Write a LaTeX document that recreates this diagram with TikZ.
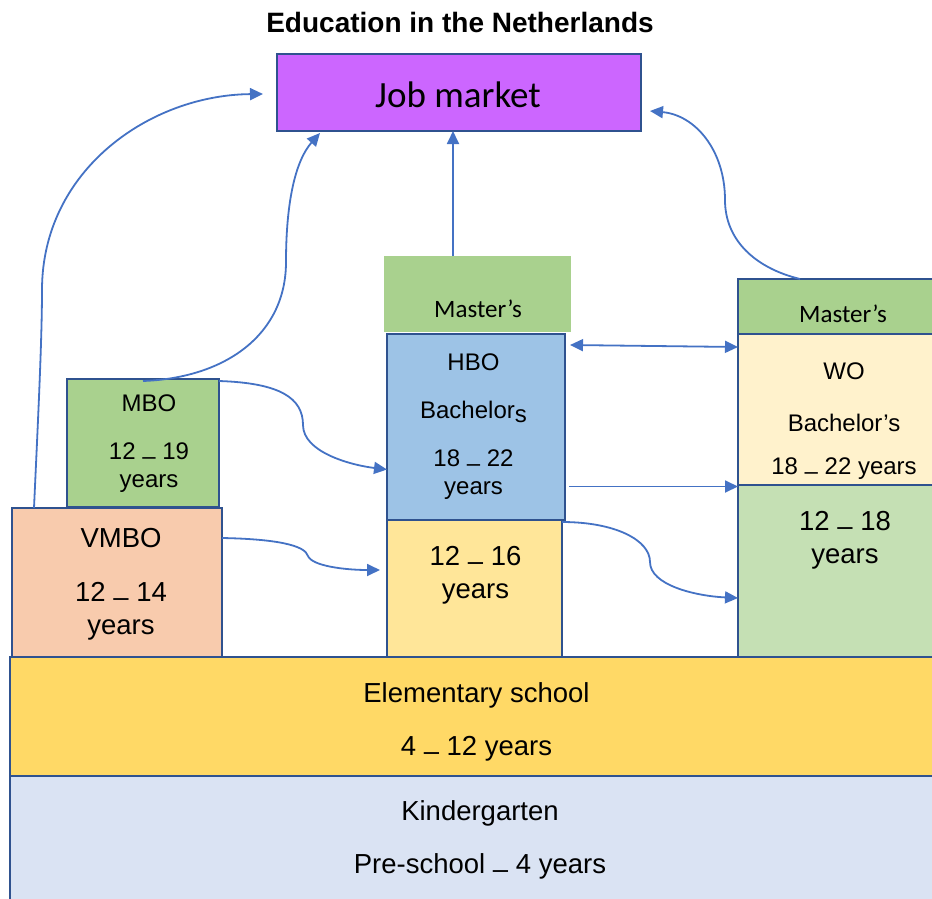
\documentclass[tikz,border=0pt]{standalone}
\usepackage{fontspec}
\setmainfont{Liberation Sans}
\newfontfamily\calibri{Carlito}
\usetikzlibrary{arrows.meta}

\definecolor{edge}{HTML}{2F528F}
\definecolor{link}{HTML}{4472C4}
\definecolor{jobfill}{HTML}{CC66FF}
\definecolor{masterfill}{HTML}{A9D18E}
\definecolor{hbofill}{HTML}{9DC3E6}
\definecolor{havofill}{HTML}{FFE699}
\definecolor{vmbofill}{HTML}{F8CBAD}
\definecolor{wofill}{HTML}{FFF2CC}
\definecolor{vwofill}{HTML}{C5E0B4}
\definecolor{elemfill}{HTML}{FFD966}
\definecolor{kinderfill}{HTML}{DAE3F3}

\newcommand{\lowdash}{\raisebox{-.18em}{–}}

\tikzset{
  box/.style={draw=edge, line width=1.5pt, anchor=north west, inner sep=0pt, outer sep=0pt},
  txt/.style={align=center, inner sep=0pt},
  smalltext/.style={font=\fontsize{24}{28}\selectfont},
  bigtext/.style={font=\fontsize{27.5}{33}\selectfont},
  mastertext/.style={anchor=base, inner sep=0pt, font=\calibri\fontsize{25}{28}\selectfont},
  flow/.style={draw=link, line width=1.8pt, -{Triangle[length=13pt,width=12pt]}},
}

\begin{document}
\begin{tikzpicture}[x=1pt,y=-1pt]
\useasboundingbox (0,0) rectangle (932,899);
\clip (0,0) rectangle (932,899);

\node[anchor=base, inner sep=0pt, font=\bfseries\fontsize{28}{32}\selectfont] (title) at (460,33) {Education in the Netherlands};

% job market
\node[box, fill=jobfill, minimum width=364pt, minimum height=77pt] (job) at (277,54) {};
\path (job.center) ++(-1,14.5) node[anchor=base, inner sep=0pt, font=\calibri\fontsize{37}{40}\selectfont] (jobtxt) {Job market};

% vocational track
\node[box, fill=vmbofill, minimum width=210pt, minimum height=149pt] (vmbo) at (12,508) {};
\path (vmbo.center) ++(4,2.2) node[txt, bigtext] (vmbotxt) {VMBO\\[21pt]12 \lowdash{} 14\\years};
\node[box, fill=masterfill, minimum width=152pt, minimum height=128pt] (mbo) at (67,379) {};
\path (mbo.center) ++(6,1) node[txt, smalltext] (mbotxt) {MBO\\[20pt]12 \lowdash{} 19\\years};

% HBO column
\node[box, fill=havofill, minimum width=175pt, minimum height=137pt] (havo) at (387,520) {};
\path (havo.center) ++(1,-13.5) node[txt, bigtext] (havotxt) {12 \lowdash{} 16\\years};
\node[box, fill=hbofill, minimum width=178pt, minimum height=186pt] (hbo) at (387,334) {};
\path (hbo.center) ++(-2.5,0) node[txt, smalltext] (hbotxt) {HBO\\[20pt]Bachelor\raisebox{-.15em}{s}\\[20pt]18 \lowdash{} 22\\years};
\node[box, draw=none, fill=masterfill, minimum width=187pt, minimum height=76pt] (hbomaster) at (384,256) {};
\path (hbomaster.center) ++(0.5,23) node[mastertext] (hbomastertxt) {Master’s};

% WO column
\node[box, fill=vwofill, minimum width=212pt, minimum height=172pt] (wogreen) at (738,485) {};
\path (wogreen.center) ++(1,-31) node[txt, bigtext] (wogreentxt) {12 \lowdash{} 18\\years};
\node[box, fill=wofill, minimum width=212pt, minimum height=151pt] (wobach) at (738,334) {};
\path (wobach.center) ++(0,12) node[txt, smalltext] (wobachtxt) {WO\\[24pt]Bachelor’s\\[15pt]18 \lowdash{} 22 years};
\node[box, fill=masterfill, minimum width=212pt, minimum height=55pt] (womaster) at (738,279) {};
\path (womaster.center) ++(-1,15.5) node[mastertext] (womastertxt) {Master’s};

% base layers
\node[box, line width=2.5pt, fill=elemfill, minimum width=933pt, minimum height=119pt] (elem) at (10,657) {};
\path (elem.center) ++(0,5) node[txt, bigtext] (elemtxt) {Elementary school\\[20pt]4 \lowdash{} 12 years};
\node[box, line width=2.5pt, fill=kinderfill, minimum width=940pt, minimum height=127pt] (kinder) at (10,776) {};
\path (kinder.center) node[txt, bigtext] (kindertxt) {Kindergarten\\[20pt]Pre-school \lowdash{} 4 years};

% routes
\draw[flow] ([xshift=22pt]vmbo.north west) .. controls (38,420) and (42,340) .. (42,290)
  .. controls (42,170) and (150,95) .. ([xshift=-14pt,yshift=-1.5pt]job.west);
\draw[flow] ([yshift=-2pt]mbo.north) .. controls (225,378) and (286,335) .. (286,262)
  .. controls (286,200) and (296,160) .. ([xshift=43pt,yshift=-2pt]job.south west);
\draw[flow] ([xshift=-24.5pt]hbomaster.north) coordinate (up) -- (up |- job.south);
\draw[flow] ([xshift=62pt]womaster.north west) .. controls (755,268) and (725,240) .. (725,200)
  .. controls (725,150) and (695,115) .. ([xshift=9pt,yshift=20pt]job.south east);

\draw[flow] ([yshift=-2pt]mbo.north east) .. controls (280,383) and (303,398) .. (303,425)
  .. controls (303,452) and (350,465) .. ([yshift=-42.5pt]hbo.west);
\draw[flow] ([yshift=-30pt]vmbo.north east) .. controls (275,539) and (305,545) .. (308,556)
  .. controls (312,566) and (345,570) .. ([xshift=-7pt,yshift=18.5pt]havo.west);

\draw[flow, {Triangle[length=13pt,width=12pt]}-{Triangle[length=13pt,width=12pt]}]
  ([xshift=5pt,yshift=-11pt]hbo.north east) -- ([yshift=-13pt]wobach.north west);
\draw[flow] ([xshift=4pt,yshift=-59.5pt]hbo.east) coordinate (out) -- (out -| wogreen.west);
\draw[flow] ([yshift=-2pt]havo.north east) .. controls (615,522) and (650,540) .. (650,562)
  .. controls (650,585) and (695,596) .. ([yshift=-27pt]wogreen.west);
\end{tikzpicture}
\end{document}
